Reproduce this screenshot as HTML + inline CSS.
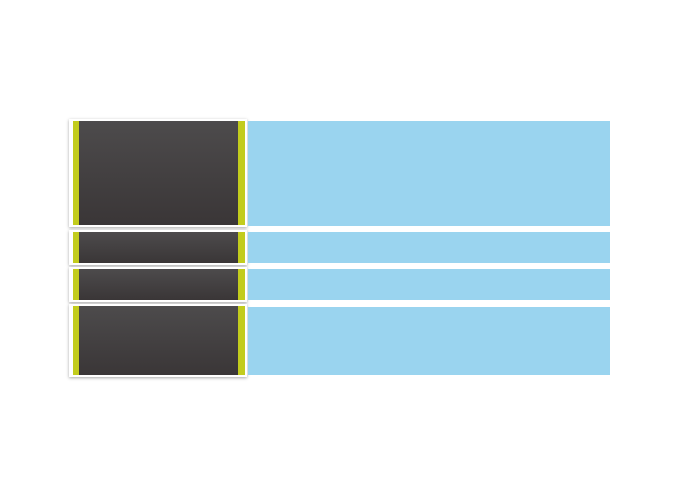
<!DOCTYPE html>
<html><head><style>
body{margin:0;width:680px;height:490px;background:#fff;position:relative;overflow:hidden}
.c{position:absolute;left:69px;width:178px;background:#fff;box-shadow:0 1px 3px rgba(0,0,0,.35)}
.i{position:absolute;left:4px;right:2px;top:2px;bottom:2px;background:#c2cc1d}
.d{position:absolute;left:6px;right:7px;top:0;bottom:0;background:linear-gradient(#4d4b4c,#3a3637)}
.b{position:absolute;left:248px;width:362px;background:#9ad4ef}
</style></head><body>
<div class="c" style="top:119px;height:108px"><div class="i"><div class="d"></div></div></div>
<div class="c" style="top:230px;height:35px"><div class="i"><div class="d"></div></div></div>
<div class="c" style="top:267px;height:35px"><div class="i"><div class="d"></div></div></div>
<div class="c" style="top:304px;height:73px"><div class="i"><div class="d"></div></div></div>
<div class="b" style="top:121px;height:105px"></div>
<div class="b" style="top:232px;height:31px"></div>
<div class="b" style="top:269px;height:31px"></div>
<div class="b" style="top:307px;height:68px"></div>
</body></html>
